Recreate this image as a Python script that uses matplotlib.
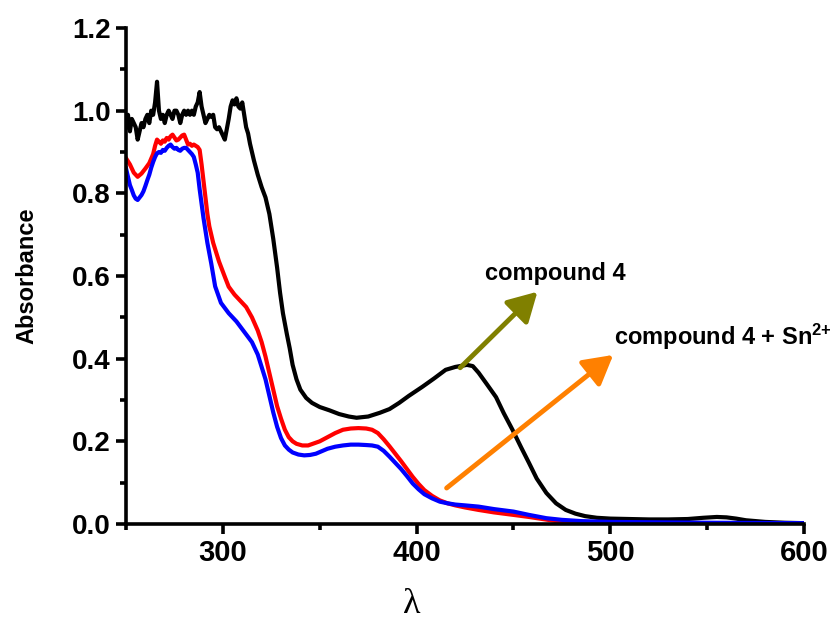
import matplotlib
matplotlib.use("Agg")
import matplotlib.pyplot as plt
from matplotlib.ticker import MultipleLocator

plt.rcParams["mathtext.fontset"] = "custom"
plt.rcParams["mathtext.rm"] = "Liberation Sans:bold"
plt.rcParams["mathtext.bf"] = "Liberation Sans:bold"
plt.rcParams["mathtext.it"] = "Liberation Sans:bold"

# ---- data ----
wl_black = [250, 251, 252, 253, 254, 255, 256, 257, 258, 259, 260, 261, 262, 263, 264, 265, 266, 267, 268, 269,
            270, 271, 272, 273, 274, 275, 276, 277, 278, 279, 280, 281, 282, 283, 284, 285, 286, 287, 288, 289,
            290, 291, 292, 293, 294, 295, 296, 297, 298, 299, 300, 301, 302, 303, 304, 305, 306, 307, 308, 309,
            310, 311, 312, 313, 314, 315, 316, 318, 320, 322, 324, 326, 328, 329.5, 331, 333, 334.5, 336, 338, 340,
            343, 346, 350, 355, 360, 365, 369, 375, 381, 386, 391, 396, 403, 409, 415, 420, 426, 429, 432, 436,
            441, 445, 449.5, 454, 458, 462, 467, 472, 477, 482, 487, 493, 500, 510, 520, 530, 540, 548, 555, 560,
            565, 570, 580, 590, 600]
abs_black = [0.96, 0.99, 0.95, 0.98, 0.97, 0.96, 0.93, 0.95, 0.97, 0.96, 0.98, 0.99, 0.97, 1.00, 0.99, 1.02, 1.07, 1.00, 0.98, 0.99,
             0.97, 0.99, 1.00, 0.99, 0.98, 1.00, 1.00, 0.99, 0.97, 0.99, 1.00, 0.99, 1.00, 0.99, 1.00, 0.99, 1.01, 1.02, 1.045, 1.01,
             0.99, 0.97, 0.98, 0.99, 0.985, 0.99, 0.96, 0.955, 0.96, 0.95, 0.94, 0.93, 0.955, 0.98, 1.01, 1.025, 1.015, 1.03, 1.01, 1.005,
             1.02, 0.99, 0.96, 0.945, 0.92, 0.90, 0.88, 0.845, 0.815, 0.79, 0.75, 0.69, 0.62, 0.56, 0.51, 0.46, 0.425, 0.385, 0.35, 0.325,
             0.305, 0.293, 0.283, 0.275, 0.266, 0.26, 0.257, 0.26, 0.269, 0.278, 0.293, 0.31, 0.332, 0.352, 0.373, 0.38, 0.385, 0.382, 0.366, 0.34,
             0.307, 0.268, 0.228, 0.185, 0.148, 0.11, 0.075, 0.05, 0.034, 0.025, 0.019, 0.015, 0.013, 0.012, 0.011, 0.011, 0.012, 0.015, 0.017, 0.016,
             0.013, 0.009, 0.005, 0.003, 0.002]

wl_red = [250, 252, 254, 256, 258, 260, 262, 264, 265, 266, 267, 268, 269, 270, 271, 272, 273, 274, 275, 276,
          277, 278, 279, 280, 281, 282, 283, 284, 285, 286, 287, 288, 289, 290, 291, 292, 293, 295, 298, 301,
          303, 306, 309, 312, 315, 318, 320, 322, 324, 326, 328, 330, 332, 334, 336, 338, 341, 344, 347, 350,
          354, 358, 362, 366, 370, 374, 377, 380, 383, 386, 389, 392, 395, 398, 401, 404, 408, 412, 416, 420,
          425, 432, 440, 450, 458, 465, 472, 480, 490, 500, 550, 600]
abs_red = [0.885, 0.87, 0.85, 0.84, 0.848, 0.86, 0.873, 0.895, 0.915, 0.93, 0.925, 0.92, 0.928, 0.925, 0.934, 0.93, 0.938, 0.942, 0.935, 0.928,
           0.93, 0.935, 0.94, 0.942, 0.93, 0.918, 0.92, 0.915, 0.918, 0.915, 0.912, 0.905, 0.87, 0.83, 0.79, 0.75, 0.72, 0.68, 0.635, 0.598,
           0.574, 0.555, 0.54, 0.525, 0.50, 0.468, 0.44, 0.405, 0.365, 0.325, 0.285, 0.255, 0.228, 0.21, 0.20, 0.194, 0.19, 0.19, 0.195, 0.20,
           0.21, 0.22, 0.228, 0.231, 0.232, 0.231, 0.228, 0.22, 0.205, 0.188, 0.17, 0.152, 0.133, 0.114, 0.097, 0.082, 0.068, 0.057, 0.05, 0.045,
           0.04, 0.034, 0.028, 0.022, 0.017, 0.012, 0.007, 0.003, 0.001, 0.0, 0.0, 0.0]

wl_blue = [250, 251, 252, 253, 254, 255, 256, 257, 258, 259, 260, 261, 262, 263, 264, 265, 266, 267, 268, 269,
           270, 271, 272, 273, 274, 275, 276, 277, 278, 279, 280, 281, 282, 283, 284, 285, 286, 287, 288, 289,
           290, 291, 292, 294, 296, 299, 303, 307, 311, 315, 318, 320, 322, 324, 326, 328, 330, 332, 334, 336,
           339, 342, 345, 348, 351, 354, 358, 362, 366, 370, 374, 377, 380, 383, 386, 389, 392, 395, 398, 401,
           404, 408, 412, 416, 420, 425, 432, 440, 450, 458, 467, 475, 485, 500, 550, 600]
abs_blue = [0.86, 0.84, 0.82, 0.808, 0.795, 0.787, 0.784, 0.79, 0.796, 0.805, 0.818, 0.832, 0.845, 0.862, 0.876, 0.888, 0.897, 0.90, 0.898, 0.905,
            0.903, 0.91, 0.915, 0.918, 0.912, 0.908, 0.91, 0.905, 0.903, 0.908, 0.91, 0.91, 0.905, 0.90, 0.895, 0.888, 0.87, 0.85, 0.81, 0.775,
            0.74, 0.71, 0.68, 0.63, 0.575, 0.535, 0.51, 0.49, 0.465, 0.44, 0.41, 0.38, 0.35, 0.31, 0.27, 0.235, 0.208, 0.19, 0.18, 0.173,
            0.168, 0.166, 0.167, 0.17, 0.176, 0.182, 0.187, 0.19, 0.192, 0.192, 0.191, 0.19, 0.187, 0.177, 0.163, 0.148, 0.133, 0.116, 0.098, 0.084,
            0.072, 0.062, 0.054, 0.05, 0.047, 0.045, 0.042, 0.036, 0.03, 0.022, 0.014, 0.01, 0.007, 0.005, 0.003, 0.002]

x_ticks = [300, 400, 500, 600]
y_ticks = [0.0, 0.2, 0.4, 0.6, 0.8, 1.0, 1.2]
label_cpd = "compound 4"
label_sn = r"compound 4 + Sn$^{\mathbf{2{+}}}$"

# ---- figure ----
fig = plt.figure(figsize=(8.33, 6.31), dpi=100)
ax = fig.add_axes([0.1513, 0.1696, 0.8139, 0.786])

ax.plot(wl_black, abs_black, color="black", lw=3.0, solid_joinstyle="round")
ax.plot(wl_red, abs_red, color="#ff0000", lw=3.0, solid_joinstyle="round")
ax.plot(wl_blue, abs_blue, color="#0000ff", lw=3.0, solid_joinstyle="round")

ax.set_xlim(250, 600)
ax.set_ylim(0, 1.2)
ax.set_xticks(x_ticks)
ax.set_yticks(y_ticks)
ax.set_yticklabels([f"{v:.1f}" for v in y_ticks])
ax.xaxis.set_minor_locator(MultipleLocator(50))
ax.yaxis.set_minor_locator(MultipleLocator(0.1))

for s in ["top", "right"]:
    ax.spines[s].set_visible(False)
for s in ["left", "bottom"]:
    ax.spines[s].set_linewidth(2.6)

ax.tick_params(which="major", direction="out", length=7, width=2.6, pad=4)
ax.tick_params(which="minor", direction="out", length=4, width=2.6)

for lab in ax.get_yticklabels():
    lab.set_fontfamily(["Liberation Sans", "DejaVu Sans"])
    lab.set_fontweight("bold")
    lab.set_fontsize(20)
for lab in ax.get_xticklabels():
    lab.set_fontfamily(["Liberation Sans", "DejaVu Sans"])
    lab.set_fontweight("bold")
    lab.set_fontsize(21)

ax.set_ylabel("Absorbance", fontsize=17, fontweight="bold",
              family=["Liberation Sans", "DejaVu Sans"], labelpad=24)
ax.set_xlabel("λ", fontsize=26, family=["Liberation Serif", "DejaVu Serif"], labelpad=15, x=0.421)

# arrows and annotations
ax.annotate("", xy=(462.4, 0.562), xytext=(422.5, 0.378),
            arrowprops=dict(arrowstyle="-|>,head_length=0.8,head_width=0.45", color="#808000",
                            lw=3.5, mutation_scale=22, shrinkA=0, shrinkB=0))
ax.annotate("", xy=(501.5, 0.409), xytext=(415.5, 0.087),
            arrowprops=dict(arrowstyle="-|>,head_length=0.8,head_width=0.45", color="#ff8000",
                            lw=3.5, mutation_scale=22, shrinkA=0, shrinkB=0))

ax.text(435.5, 0.607, label_cpd, fontsize=17, fontweight="bold",
        family=["Liberation Sans", "DejaVu Sans"], ha="left", va="center")
ax.text(501.7, 0.452, label_sn, fontsize=17, fontweight="bold",
        family=["Liberation Sans", "DejaVu Sans"], ha="left", va="center", clip_on=False)

fig.savefig("out.png", dpi=100)
